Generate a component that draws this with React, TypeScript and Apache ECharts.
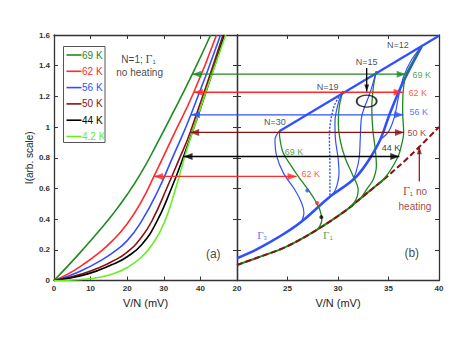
import React, { useEffect, useRef } from 'react';
import * as echarts from 'echarts';

const C69 = '#1f8a1f';
const C62 = '#ff2a2a';
const C56 = '#3050ff';
const C50 = '#8b1010';
const C44 = '#000000';
const C42 = '#66ee22';
const FONT = 'Liberation Sans, Arial, sans-serif';

// ---- panel (a): I-V curves, N=1, no heating ----
const legendLabels = ['69 K', '62 K', '56 K', '50 K', '44 K', '4.2 K'];
const legendColors = [C69, C62, C56, C50, C44, C42];
const iv69 = [[0, 0], [4, 0.1], [8, 0.205], [12, 0.315], [16, 0.43], [20, 0.56], [24, 0.71], [28, 0.885], [32, 1.07], [37.8, 1.345], [42.8, 1.6]];
const iv62 = [[0, 0], [4, 0.045], [8, 0.105], [12, 0.175], [16, 0.26], [20, 0.37], [24, 0.52], [27.3, 0.678], [32.3, 0.93], [38.2, 1.227], [44.4, 1.6]];
const iv56 = [[0, 0], [4, 0.03], [8, 0.07], [12, 0.12], [16, 0.18], [20, 0.26], [24, 0.39], [28.3, 0.58], [32, 0.78], [37.4, 1.08], [45.5, 1.6]];
const iv50 = [[0, 0], [4, 0.02], [8, 0.045], [12, 0.08], [16, 0.125], [20, 0.185], [24, 0.285], [27, 0.4], [30.6, 0.59], [34, 0.78], [37.2, 0.965], [46.2, 1.6]];
const iv44 = [[0, 0], [4, 0.015], [8, 0.035], [12, 0.065], [16, 0.105], [20, 0.155], [24, 0.235], [28, 0.38], [31.9, 0.59], [35.4, 0.808], [40, 1.12], [46.6, 1.6]];
const iv42 = [[0, 0], [4, 0.002], [8, 0.008], [12, 0.02], [16, 0.042], [20, 0.085], [24, 0.155], [27, 0.24], [30, 0.37], [33, 0.58], [36.9, 0.9], [46.9, 1.6]];
const leftCurves = [iv69, iv62, iv56, iv50, iv44, iv42];

// ---- horizontal arrows crossing both panels ----
const arrowLevels = [1.345, 1.227, 1.08, 0.965, 0.808, 0.678];
const arrowColors = [C69, C62, C56, C50, C44, C62];
const arrowLeftTips = [37.8, 38.2, 37.4, 37.2, 35.4, 27.3];
const arrowRightTips = [36.7, 36.4, 36.47, 36.53, 36.07, 25.9];

// ---- panel (b) ----
const gamma1 = [[20, 0.101], [22, 0.148], [24.9, 0.221], [27.9, 0.33], [30.86, 0.46], [32.5, 0.55], [34.5, 0.657], [37.1, 0.81], [40, 1.0]];
const gamma3 = [[20, 0.145], [22, 0.205], [24.3, 0.29], [26.4, 0.385], [29.2, 0.546], [31, 0.63], [32, 0.69], [33.2, 0.8], [34.2, 0.92], [35.2, 1.1], [36.5, 1.3], [38.3, 1.528]];
const upperLine = [[24.19, 0.973], [40, 1.595]];
const g30 = [[24.19, 0.973], [24.26, 0.918], [24.58, 0.831], [25.4, 0.744], [26.07, 0.678], [27.06, 0.59], [27.8, 0.515], [28.2, 0.461], [28.4, 0.395], [28.2, 0.355], [27.9, 0.33]];
const g19 = [[30.5, 1.234], [30.13, 1.136], [30.03, 1.027], [30.2, 0.918], [30.7, 0.8], [31.5, 0.68], [32.0, 0.59], [31.8, 0.53], [31.2, 0.48]];
const g15 = [[33.8, 1.365], [33.5, 1.26], [33.35, 1.12], [33.45, 0.98], [33.7, 0.85], [33.8, 0.75], [33.5, 0.66], [32.9, 0.6], [32.3, 0.54]];
const g12 = [[38.3, 1.528], [37.6, 1.45], [36.75, 1.345], [36.45, 1.227], [36.4, 1.1], [36.5, 0.965], [36.2, 0.86], [35.95, 0.808], [35.0, 0.7], [34.0, 0.628]];
const b30 = [[24.19, 0.973], [23.76, 0.918], [23.93, 0.81], [24.6, 0.7], [25.74, 0.59], [26.4, 0.505], [26.63, 0.44], [26.4, 0.385]];
const b19 = [[30.5, 1.234], [30.0, 1.15], [29.7, 1.03], [29.75, 0.918], [30.0, 0.8], [30.1, 0.7], [29.9, 0.62], [29.55, 0.565]];
const b19dotted = [[30.5, 1.234], [29.7, 1.15], [29.25, 1.03], [29.15, 0.918], [29.2, 0.75], [29.2, 0.546]];
const b15 = [[33.8, 1.365], [33.17, 1.223], [32.35, 1.07], [32.2, 0.918], [32.1, 0.8], [31.8, 0.71], [31.5, 0.66]];
const b12 = [[38.3, 1.528], [37.3, 1.44], [36.5, 1.33], [36.0, 1.2], [35.6, 1.07], [35.0, 0.97], [34.2, 0.92]];
const markDots = [[26.96, 0.587], [27.93, 0.505], [28.35, 0.413]];
const markDotColors = [C56, C62, C44];
const nLabels = ['N=12', 'N=15', 'N=19', 'N=30'];
const nLabelPos = [[35.94, 1.535], [32.84, 1.426], [28.98, 1.263], [23.76, 1.031]];
const kLabels = ['69 K', '62 K', '56 K', '50 K', '44 K', '69 K', '62 K'];
const kLabelPos = [[38.3, 1.337], [37.9, 1.225], [38.0, 1.095], [37.8, 0.964], [35.25, 0.866], [25.64, 0.84], [27.3, 0.696]];
const kLabelColors = [C69, C62, C56, C50, C44, C69, C62];
const n15Arrow = [[32.84, 1.385], [32.84, 1.232]];
const ellipseAt = [[32.84, 1.169]];
const noHeatArrow = [[38.05, 0.646], [38.05, 0.875]];

function arrow(grid: number, color: string, from: number[], to: number[], dir: string, width = 1.3, L = 9, W = 7) {
  const rot: any = { left: 90, right: -90, up: 0, down: 180 }[dir];
  const off: any = { left: [L / 2, 0], right: [-L / 2, 0], up: [0, L / 2], down: [0, -L / 2] }[dir];
  return [
    { type: 'line', xAxisIndex: grid * 2, yAxisIndex: grid * 2, data: [from, to], symbol: 'none', lineStyle: { color, width }, silent: true, z: 5 },
    { type: 'scatter', xAxisIndex: grid * 2, yAxisIndex: grid * 2, data: [to], symbol: 'triangle', symbolSize: [W, L], symbolRotate: rot, symbolOffset: off, itemStyle: { color }, silent: true, z: 6 },
  ];
}

function curve(grid: number, data: number[][], color: string, width: number, extra: any = {}) {
  return {
    type: 'line', xAxisIndex: grid * 2, yAxisIndex: grid * 2, data, smooth: extra.smooth ?? 0.35, symbol: 'none',
    lineStyle: { color, width, ...(extra.lineStyle || {}) }, silent: true, z: extra.z || 3, clip: true,
  };
}

function textSeries(grid: number, items: any[]) {
  return {
    type: 'scatter', xAxisIndex: grid * 2, yAxisIndex: grid * 2, symbolSize: 0, silent: true, z: 8,
    data: items.map((it) => ({
      value: it.pos,
      label: {
        show: true, position: 'inside', formatter: it.text, color: it.color, fontSize: it.size || 9, fontFamily: FONT,
        rich: {
          g: { fontFamily: 'Liberation Serif, serif', fontSize: (it.size || 9) + 2, color: it.color },
          s: { fontSize: 6, color: it.color, padding: [6, 0, 0, 0] },
          t: { fontSize: it.size || 9, color: it.color, fontFamily: FONT },
        },
      },
    })),
  };
}

const axisStyle = {
  axisLine: { onZero: false, lineStyle: { color: '#333', width: 1.3 } },
  axisTick: { inside: true, length: 4, lineStyle: { color: '#333', width: 1 } },
  splitLine: { show: false },
};
const labelStyle = { fontSize: 8, color: '#333', fontFamily: FONT, fontWeight: 'bold' as const };

export default function App() {
  const ref = useRef<HTMLDivElement>(null);
  useEffect(() => {
    const chart = echarts.init(ref.current!, null, { renderer: 'svg' });
    const series: any[] = [];
    leftCurves.forEach((d, i) => series.push(curve(0, d, legendColors[i], 1.6, { smooth: 0.5 })));
    arrowLevels.forEach((lv, i) => {
      series.push(...arrow(0, arrowColors[i], [50, lv], [arrowLeftTips[i], lv], 'left'));
      series.push(...arrow(1, arrowColors[i], [20, lv], [arrowRightTips[i], lv], 'right'));
    });
    // panel b
    series.push(curve(1, gamma1.slice(0, 7), C69, 2, { z: 2 }));
    series.push(curve(1, gamma1, C50, 2, { z: 3, lineStyle: { type: [6, 3] } }));
    series.push(curve(1, gamma3, C56, 2.6, { z: 3 }));
    series.push({ ...curve(1, upperLine, C56, 2.2, { z: 3 }), smooth: false });
    [g30, g19, g15, g12].forEach((d) => series.push(curve(1, d, C69, 1.3)));
    [b30, b19, b15, b12].forEach((d) => series.push(curve(1, d, C56, 1.2)));
    series.push(curve(1, b19dotted, C56, 1.4, { lineStyle: { type: [2, 1.5] } }));
    series.push({
      type: 'scatter', xAxisIndex: 2, yAxisIndex: 2, silent: true, z: 7, symbolSize: 4,
      data: markDots.map((p, i) => ({ value: p, itemStyle: { color: markDotColors[i] } })),
    });
    series.push(...arrow(1, '#000', n15Arrow[0], n15Arrow[1], 'down', 1.3, 7, 5));
    series.push({
      type: 'scatter', xAxisIndex: 2, yAxisIndex: 2, silent: true, z: 7, symbol: 'circle', symbolSize: [20, 12],
      data: ellipseAt, itemStyle: { color: 'rgba(0,0,0,0)', borderColor: '#000', borderWidth: 1.5 },
    });
    series.push(...arrow(1, C50, noHeatArrow[0], noHeatArrow[1], 'up', 1.2, 8, 5));
    series.push(textSeries(1, [
      ...nLabels.map((t, i) => ({ text: t, pos: nLabelPos[i], color: '#222' })),
      ...kLabels.map((t, i) => ({ text: t, pos: kLabelPos[i], color: kLabelColors[i] })),
      { text: '{g|Γ}{s|1}{t| no}', pos: [37.62, 0.582], color: C50, size: 10 },
      { text: 'heating', pos: [37.62, 0.482], color: C50, size: 10 },
      { text: '{g|Γ}{s|3}', pos: [22.48, 0.297], color: C56, size: 9 },
      { text: '{g|Γ}{s|1}', pos: [29.0, 0.297], color: C69, size: 9 },
      { text: '(b)', pos: [37.3, 0.178], color: '#111', size: 12 },
    ]));
    series.push(textSeries(0, [
      { text: '(a)', pos: [43.5, 0.173], color: '#111', size: 12 },
      { text: '{t|N=1; }{g|Γ}{s|1}', pos: [23.1, 1.441], color: '#111', size: 10 },
      { text: 'no heating', pos: [23.4, 1.356], color: '#111', size: 10 },
    ]));

    const legendTop = 55;
    const legendStep = 16.3;
    const legendGraphic: any[] = [
      { type: 'rect', shape: { x: 63.5, y: 46.5, width: 41.5, height: 96 }, style: { fill: '#fff', stroke: '#555', lineWidth: 1 }, z: 10 },
    ];
    legendLabels.forEach((t, i) => {
      const y = legendTop + i * legendStep;
      legendGraphic.push({ type: 'line', shape: { x1: 66.5, y1: y, x2: 81.5, y2: y }, style: { stroke: legendColors[i], lineWidth: 1.6 }, z: 11 });
      legendGraphic.push({ type: 'text', x: 82, y, style: { text: t, fill: legendColors[i], font: `10px ${FONT}`, verticalAlign: 'middle', align: 'left' }, z: 11 });
    });

    chart.setOption({
      animation: false,
      backgroundColor: '#fff',
      grid: [
        { left: 54, top: 35, width: 183, height: 245.5 },
        { left: 237, top: 35, width: 202, height: 245.5 },
      ],
      xAxis: [
        { type: 'value', gridIndex: 0, min: 0, max: 50, interval: 10, position: 'bottom', ...axisStyle,
          axisLabel: { ...labelStyle, margin: 4, formatter: (v: number) => (v === 50 ? '' : String(v)) },
          name: 'V/N (mV)', nameLocation: 'middle', nameGap: 14, nameTextStyle: { fontSize: 11, color: '#222', fontFamily: FONT } },
        { type: 'value', gridIndex: 0, min: 0, max: 50, interval: 10, position: 'top', ...axisStyle, axisLabel: { show: false } },
        { type: 'value', gridIndex: 1, min: 20, max: 40, interval: 5, position: 'bottom', ...axisStyle,
          axisLabel: { ...labelStyle, margin: 4 },
          name: 'V/N (mV)', nameLocation: 'middle', nameGap: 14, nameTextStyle: { fontSize: 11, color: '#222', fontFamily: FONT } },
        { type: 'value', gridIndex: 1, min: 20, max: 40, interval: 5, position: 'top', ...axisStyle, axisLabel: { show: false } },
      ],
      yAxis: [
        { type: 'value', gridIndex: 0, min: 0, max: 1.6, interval: 0.2, position: 'left', ...axisStyle,
          axisLabel: { ...labelStyle, margin: 4 },
          name: 'I(arb. scale)', nameLocation: 'middle', nameGap: 20, nameTextStyle: { fontSize: 10, color: '#222', fontFamily: FONT } },
        { type: 'value', gridIndex: 0, min: 0, max: 1.6, interval: 0.2, position: 'right', ...axisStyle, axisLabel: { show: false } },
        { type: 'value', gridIndex: 1, min: 0, max: 1.6, interval: 0.2, position: 'left', ...axisStyle, axisLabel: { show: false } },
        { type: 'value', gridIndex: 1, min: 0, max: 1.6, interval: 0.2, position: 'right', ...axisStyle, axisLabel: { show: false } },
      ],
      series,
      graphic: legendGraphic,
    });
    return () => chart.dispose();
  }, []);
  return <div ref={ref} style={{ position: 'absolute', left: 0, top: 0, width: 471, height: 364 }} />;
}
